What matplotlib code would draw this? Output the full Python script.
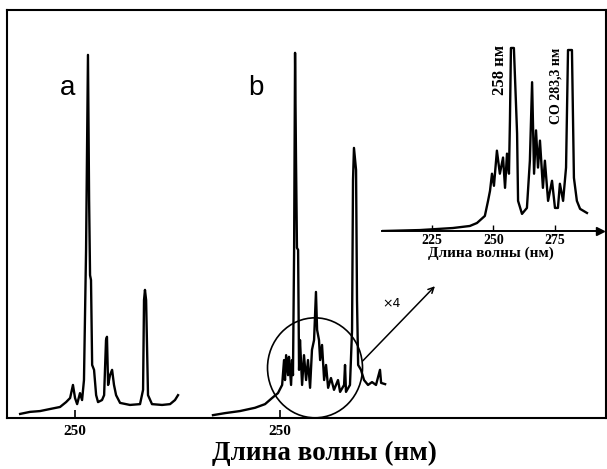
import matplotlib.pyplot as plt
from matplotlib.patches import Ellipse

# spectrum a (wavelength nm, intensity %)
wl_a = [221.1, 226.3, 231.6, 236.8, 242.1, 245.3, 247.4, 248.9, 250.0, 251.1,
        252.6, 253.7, 254.7, 255.8, 256.8, 257.4, 257.9, 258.4, 259.0, 260.0,
        261.1, 262.1, 264.2, 265.3, 266.3, 266.8, 267.4, 268.4, 269.5, 270.5,
        271.6, 273.7, 278.9, 284.2, 285.8, 286.3, 286.8, 287.4, 288.4, 290.5,
        295.8, 300.0, 302.6, 304.2]
int_a = [1.0, 1.5, 1.7, 2.2, 2.7, 3.9, 4.9, 8.1, 4.9, 3.4,
         6.1, 4.4, 9.3, 41.2, 89.0, 53.4, 35.0, 33.8, 13.0, 11.8,
         5.6, 3.9, 4.4, 5.6, 19.1, 19.9, 8.1, 10.5, 11.8, 8.1,
         5.6, 3.7, 3.2, 3.4, 6.9, 28.9, 31.4, 28.9, 5.6, 3.4,
         3.2, 3.4, 4.4, 5.6]

# spectrum b
wl_b = [214.7, 221.1, 228.9, 236.8, 242.1, 245.8, 248.9, 251.1, 252.1, 252.6,
        253.2, 254.2, 254.7, 255.8, 256.3, 256.8, 257.4, 257.9, 258.4, 258.9,
        259.5, 260.0, 260.5, 261.6, 262.6, 263.7, 264.7, 265.8, 266.8, 267.9,
        268.9, 269.5, 270.5, 271.1, 272.1, 273.2, 274.2, 275.3, 276.8, 278.4,
        280.5, 281.6, 283.7, 284.2, 284.7, 286.8, 287.9, 288.4, 288.9, 290.0,
        290.5, 291.1, 292.6, 294.2, 296.3, 298.4, 300.5, 302.6, 303.2, 305.3]
int_b = [0.7, 1.2, 1.7, 2.5, 3.4, 4.9, 6.1, 8.1, 14.2, 9.3,
         15.4, 10.5, 15.0, 8.1, 14.2, 10.5, 41.2, 89.5, 63.2, 41.7,
         41.2, 11.8, 19.1, 8.1, 15.4, 9.3, 14.2, 7.4, 16.7, 19.1,
         30.9, 21.6, 19.1, 14.2, 17.9, 9.3, 13.0, 7.4, 9.8, 6.9,
         9.3, 6.4, 8.1, 13.0, 6.4, 8.1, 21.6, 58.3, 66.2, 60.8,
         28.9, 13.0, 11.8, 9.3, 8.1, 8.8, 8.1, 11.8, 8.6, 8.3]

# inset, x4 zoom of the circled region
wl_in = [205.1, 220.1, 233.5, 240.4, 243.3, 246.5, 247.8, 248.6, 249.4, 250.2,
         251.4, 252.6, 253.9, 254.7, 255.5, 256.3, 256.7, 257.1, 258.3, 259.1,
         259.6, 260.0, 261.6, 263.6, 264.8, 265.7, 266.5, 267.3, 268.1, 268.9,
         270.1, 270.9, 272.2, 273.8, 275.0, 276.2, 277.0, 278.3, 279.5, 280.3,
         281.9, 282.7, 283.9, 285.2, 288.0]
int_in = [0.0, 0.5, 1.6, 2.7, 4.3, 8.1, 16.2, 21.6, 30.8, 24.3,
          43.2, 30.8, 39.5, 23.2, 41.6, 30.8, 59.5, 98.4, 98.4, 70.3,
          52.4, 16.2, 9.2, 12.4, 37.8, 80.0, 30.8, 54.1, 34.1, 48.6,
          23.2, 37.8, 16.2, 27.0, 12.4, 12.4, 25.4, 16.2, 34.1, 97.3,
          97.3, 28.6, 16.2, 11.9, 9.7]

W, H = 607, 469


def rect(x0, y0, x1, y1):
    return [x0 / W, 1 - y1 / H, (x1 - x0) / W, (y1 - y0) / H]


fig = plt.figure(figsize=(W / 100, H / 100), dpi=100)
serif = 'Liberation Serif'

# outer frame
frame = fig.add_axes(rect(7, 10, 606, 418))
frame.set_xticks([])
frame.set_yticks([])
for s in frame.spines.values():
    s.set_linewidth(1.5)


def spectrum_axes(x0, x1, lim, wl, inten):
    ax = fig.add_axes(rect(x0, 10, x1, 418))
    ax.patch.set_alpha(0)
    ax.plot(wl, inten, color='black', lw=1.7)
    ax.set_xlim(*lim)
    ax.set_ylim(0, 100)
    for s in ax.spines.values():
        s.set_visible(False)
    ax.set_yticks([])
    ax.set_xticks([250])
    ax.tick_params(axis='x', direction='in', length=6, width=1.2, pad=5)
    for t in ax.get_xticklabels():
        t.set_fontfamily(serif)
        t.set_fontweight('bold')
        t.set_fontsize(11)
    return ax


ax_a = spectrum_axes(15, 190, (218.4, 310.5), wl_a, int_a)
ax_b = spectrum_axes(205, 395, (210.5, 310.5), wl_b, int_b)

ax_a.text(245.8, 80.9, 'a', fontsize=20, family='Liberation Sans', ha='center', va='center')
ax_b.text(237.4, 80.9, 'b', fontsize=20, family='Liberation Sans', ha='center', va='center')

# circle around the low-intensity band
ax_b.add_patch(Ellipse((268.4, 12.3), 50, 24.5, fill=False, color='black', lw=1.2,
                       clip_on=False))
ax_b.text(308.9, 28.0, '×4', fontsize=9, ha='center', va='center')

# inset
ax_in = fig.add_axes(rect(382, 45, 600, 231))
ax_in.patch.set_alpha(0)
ax_in.plot(wl_in, int_in, color='black', lw=1.7)
ax_in.set_xlim(204.7, 293.3)
ax_in.set_ylim(0, 100)
for side in ['top', 'right', 'left']:
    ax_in.spines[side].set_visible(False)
ax_in.spines['bottom'].set_linewidth(1.4)
ax_in.plot(1, 0, '>', color='black', ms=6, transform=ax_in.transAxes, clip_on=False)
ax_in.set_yticks([])
ax_in.set_xticks([225, 250, 275])
ax_in.tick_params(axis='x', direction='in', length=4, width=1, pad=2)
for t in ax_in.get_xticklabels():
    t.set_fontfamily(serif)
    t.set_fontweight('bold')
    t.set_fontsize(10)
ax_in.set_xlabel('Длина волны (нм)', family=serif, fontweight='bold', fontsize=11, labelpad=0)
ax_in.text(252.6, 100, '258 нм', rotation=90, family=serif, fontsize=12,
           fontweight='bold', ha='center', va='top', clip_on=False)
ax_in.text(275.4, 98.4, 'CO 283,3 нм', rotation=90, family=serif, fontsize=10,
           fontweight='bold', ha='center', va='top', clip_on=False)

# arrow from the circle to the inset
ax_in.annotate('', xy=(227.0, -28.6), xycoords='data',
               xytext=(292.5, 13.5), textcoords=ax_b.transData,
               arrowprops=dict(arrowstyle='->', color='black', lw=1.1),
               annotation_clip=False)

fig.text(324 / W, 1 - 453 / H, 'Длина волны (нм)', family=serif, fontsize=19.5,
         fontweight='bold', ha='center', va='center')

fig.savefig('out.png', dpi=100)
